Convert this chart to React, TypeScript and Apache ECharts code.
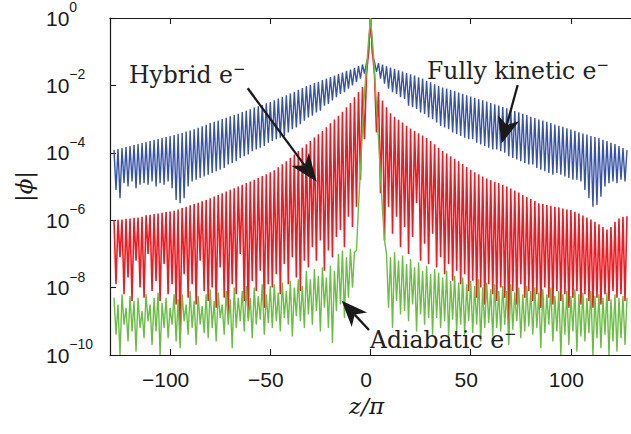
import React, { useEffect, useRef } from "react";
import * as echarts from "echarts";

// Sampling grid of the three profiles: z/π from -128 to 128, step 1
const Z_START = -128;
const Z_STEP = 1;

// log10 |phi|, z/π = -128 … 128 (16 values per row)
const fullyKineticLog = [
  -3.92, -5.1, -3.89, -5.35, -3.86, -4.9, -3.83, -5.0, -3.8, -4.85, -3.77, -5.05, -3.74, -4.95, -3.71, -4.9,
  -3.68, -4.95, -3.65, -4.85, -3.62, -5.0, -3.59, -4.9, -3.56, -4.95, -3.53, -4.85, -3.5, -5.05, -3.47, -5.4,
  -3.44, -5.5, -3.41, -5.35, -3.37, -5.0, -3.34, -4.85, -3.3, -4.8, -3.26, -4.75, -3.21, -4.7, -3.17, -4.65,
  -3.12, -4.6, -3.08, -4.55, -3.04, -4.5, -3.0, -4.45, -2.96, -4.35, -2.92, -4.3, -2.88, -4.25, -2.84, -4.15,
  -2.79, -4.1, -2.75, -4.05, -2.71, -3.95, -2.66, -3.9, -2.62, -3.85, -2.58, -3.8, -2.53, -3.7, -2.49, -3.65,
  -2.44, -3.6, -2.39, -3.55, -2.34, -3.5, -2.29, -3.4, -2.24, -3.3, -2.19, -3.25, -2.13, -3.15, -2.08, -3.05,
  -2.02, -2.95, -1.98, -2.9, -1.93, -2.8, -1.89, -2.75, -1.84, -2.6, -1.8, -2.55, -1.75, -2.45, -1.71, -2.35,
  -1.66, -2.25, -1.62, -2.2, -1.57, -2.1, -1.53, -2.0, -1.48, -1.9, -1.43, -1.8, -1.38, -1.65, -1.33, -1.1,
  0,
  -1.1, -1.3, -1.6, -1.34, -1.8, -1.38, -1.95, -1.43, -2.1, -1.47, -2.2, -1.51, -2.25, -1.55, -2.35, -1.59,
  -2.4, -1.63, -2.6, -1.67, -2.65, -1.71, -2.7, -1.76, -2.8, -1.8, -2.85, -1.86, -2.95, -1.91, -3.0, -1.97,
  -3.1, -2.02, -3.2, -2.06, -3.25, -2.09, -3.3, -2.13, -3.4, -2.17, -3.45, -2.21, -3.5, -2.25, -3.55, -2.29,
  -3.6, -2.33, -3.6, -2.37, -3.7, -2.41, -3.75, -2.44, -3.8, -2.48, -3.85, -2.52, -3.9, -2.56, -3.9, -2.6,
  -3.95, -2.64, -4.0, -2.68, -4.1, -2.72, -4.15, -2.76, -4.2, -2.8, -4.25, -2.84, -4.3, -2.88, -4.35, -2.93,
  -4.35, -2.97, -4.45, -3.01, -4.5, -3.04, -4.55, -3.08, -4.6, -3.12, -4.65, -3.16, -4.6, -3.2, -4.65, -3.23,
  -4.7, -3.27, -4.75, -3.31, -4.8, -3.35, -4.8, -3.39, -4.85, -3.43, -5.1, -3.46, -5.35, -3.5, -5.6, -3.53,
  -5.55, -3.56, -5.3, -3.61, -5.0, -3.65, -4.9, -3.7, -4.85, -3.74, -4.9, -3.8, -4.8, -3.86, -4.85, -3.92,
];

const hybridLog = [
  -6.0, -7.9, -5.99, -7.1, -5.98, -8.2, -5.96, -7.7, -5.95, -8.4, -5.93, -7.2, -5.92, -8.0, -5.9, -8.3,
  -5.85, -7.0, -5.84, -8.1, -5.82, -7.8, -5.8, -8.4, -5.78, -7.3, -5.76, -8.2, -5.74, -7.9, -5.72, -8.5,
  -5.68, -9.3, -5.64, -7.6, -5.6, -8.3, -5.56, -7.9, -5.52, -8.5, -5.48, -7.2, -5.44, -8.1, -5.4, -8.4,
  -5.35, -8.0, -5.3, -8.6, -5.25, -7.4, -5.2, -8.3, -5.15, -8.8, -5.1, -7.9, -5.05, -8.2, -5.0, -7.0,
  -4.95, -8.4, -4.9, -8.9, -4.85, -7.8, -4.8, -8.1, -4.75, -7.5, -4.69, -8.6, -4.64, -7.9, -4.58, -8.0,
  -4.52, -7.6, -4.43, -8.2, -4.34, -7.3, -4.25, -7.9, -4.15, -7.1, -4.05, -7.7, -3.95, -8.1, -3.85, -7.2,
  -3.75, -7.4, -3.65, -6.8, -3.55, -7.2, -3.45, -6.6, -3.35, -7.5, -3.24, -6.9, -3.12, -7.1, -3.01, -6.5,
  -2.9, -6.3, -2.78, -6.8, -2.65, -5.9, -2.52, -6.2, -2.35, -5.6, -2.2, -4.8, -2.05, -3.6, -1.7, -1.0,
  0,
  -1.0, -1.7, -3.4, -2.2, -5.2, -2.45, -6.6, -2.65, -5.6, -2.83, -6.4, -2.93, -5.9, -3.02, -6.8, -3.1,
  -6.2, -3.2, -7.0, -3.28, -6.5, -3.35, -5.5, -3.42, -7.2, -3.49, -6.7, -3.56, -7.3, -3.65, -6.4, -3.75,
  -7.4, -3.85, -7.1, -3.95, -7.6, -4.02, -7.3, -4.1, -7.8, -4.18, -7.5, -4.25, -7.9, -4.33, -7.6, -4.42,
  -8.1, -4.5, -7.8, -4.58, -8.3, -4.64, -8.0, -4.7, -8.5, -4.76, -7.9, -4.81, -8.2, -4.86, -8.4, -4.9,
  -8.0, -4.95, -8.3, -5.0, -9.2, -5.06, -8.1, -5.12, -8.5, -5.18, -7.9, -5.25, -8.3, -5.31, -8.1, -5.37,
  -8.4, -5.43, -8.2, -5.5, -8.6, -5.52, -8.0, -5.55, -8.3, -5.57, -8.5, -5.6, -8.1, -5.62, -8.4, -5.65,
  -8.2, -5.68, -8.6, -5.7, -8.3, -5.75, -8.1, -5.8, -8.5, -5.86, -8.2, -5.92, -8.4, -5.98, -8.6, -6.05,
  -8.3, -6.12, -8.5, -6.2, -8.2, -6.28, -8.4, -6.2, -8.1, -6.05, -8.3, -5.95, -8.2, -5.9, -8.4, -5.88,
];

const adiabaticLog = [
  -8.3, -9.4, -8.5, -10.0, -8.2, -9.1, -8.6, -9.6, -8.25, -9.3, -8.4, -9.9, -8.3, -9.2, -8.7, -9.5,
  -8.2, -9.0, -8.5, -9.7, -8.3, -9.3, -8.15, -10.0, -8.45, -9.2, -8.3, -9.5, -8.6, -9.1, -8.2, -9.6,
  -8.35, -9.8, -8.2, -9.0, -8.5, -9.4, -8.1, -9.2, -8.4, -9.7, -8.25, -9.1, -8.55, -9.35, -8.2, -9.5,
  -8.05, -9.2, -8.4, -9.6, -8.15, -8.9, -8.5, -9.4, -8.1, -9.1, -8.35, -9.8, -8.0, -9.2, -8.3, -9.0,
  -8.1, -9.3, -7.95, -9.0, -8.3, -9.5, -8.0, -9.1, -8.25, -8.95, -7.9, -9.4, -8.2, -9.05, -7.95, -9.2,
  -7.9, -9.0, -8.15, -9.3, -7.85, -8.9, -8.1, -9.1, -7.8, -9.45, -8.0, -8.85, -7.75, -9.0, -7.95, -9.2,
  -7.5, -8.8, -7.75, -9.1, -7.45, -8.7, -7.65, -9.3, -7.4, -8.6, -7.7, -9.2, -7.35, -9.65, -7.5, -8.7,
  -7.0, -8.5, -6.9, -8.9, -7.1, -8.3, -6.85, -8.0, -6.95, -6.9, -5.6, -4.5, -3.3, -2.2, -1.5, -0.7,
  0,
  -0.7, -1.6, -2.6, -3.6, -4.7, -5.7, -6.6, -7.0, -8.6, -7.1, -9.2, -6.95, -8.4, -7.2, -8.8, -7.05,
  -8.7, -7.3, -9.0, -7.15, -8.5, -7.4, -9.3, -7.25, -8.8, -7.5, -9.1, -7.35, -8.9, -7.6, -9.4, -7.45,
  -8.9, -7.55, -9.2, -7.7, -9.0, -7.5, -9.5, -7.8, -8.95, -7.65, -9.3, -7.85, -9.1, -7.7, -9.4, -7.9,
  -9.0, -7.8, -9.35, -7.95, -9.1, -7.75, -9.6, -8.0, -9.2, -7.85, -9.05, -8.05, -9.45, -7.9, -9.2, -8.1,
  -9.3, -7.95, -9.1, -8.1, -9.7, -7.9, -9.25, -8.15, -9.0, -8.0, -9.5, -8.2, -9.3, -7.95, -9.15, -8.1,
  -9.4, -8.0, -9.2, -8.15, -9.8, -8.05, -9.35, -8.2, -9.1, -8.0, -9.6, -8.25, -9.3, -8.1, -10.0, -8.2,
  -9.4, -8.1, -9.7, -8.25, -9.3, -8.05, -9.9, -8.2, -9.45, -8.15, -9.6, -8.3, -9.35, -8.1, -10.0, -8.25,
  -9.5, -8.2, -9.8, -8.3, -9.4, -8.15, -10.0, -8.35, -9.6, -8.2, -9.9, -8.3, -9.5, -8.25, -9.7, -8.3,
];

const seriesNames = ["Fully kinetic e⁻", "Hybrid e⁻", "Adiabatic e⁻"];
const seriesColors = ["#3953a4", "#ed1c24", "#6cbd45"];

const X_MIN = -130;
const X_MAX = 130;
const Y_MIN_EXP = -10;
const Y_MAX_EXP = 0;
const Y_STEP_EXP = 2;

const INK = "#1a1a1a";

function arrow(tail: number[], tip: number[], headLen: number, halfW: number, notch: number) {
  const dx = tip[0] - tail[0];
  const dy = tip[1] - tail[1];
  const L = Math.hypot(dx, dy);
  const ux = dx / L, uy = dy / L;
  const nx = -uy, ny = ux;
  const bx = tip[0] - ux * headLen, by = tip[1] - uy * headLen;
  const mx = tip[0] - ux * (headLen - notch), my = tip[1] - uy * (headLen - notch);
  return [
    {
      type: "line",
      z: 100,
      silent: true,
      shape: { x1: tail[0], y1: tail[1], x2: mx, y2: my },
      style: { stroke: INK, lineWidth: 2.3 },
    },
    {
      type: "polygon",
      z: 100,
      silent: true,
      shape: {
        points: [
          [tip[0], tip[1]],
          [bx + nx * halfW, by + ny * halfW],
          [mx, my],
          [bx - nx * halfW, by - ny * halfW],
        ],
      },
      style: { fill: INK },
    },
  ];
}

function label(text: string, x: number, y: number) {
  return {
    type: "text",
    z: 100,
    silent: true,
    x,
    y,
    style: {
      text: `{m|${text}}{s|−}`,
      align: "left",
      verticalAlign: "middle",
      rich: {
        m: { fontFamily: "DejaVu Serif", fontSize: 23.5, lineHeight: 28, fill: "#222", verticalAlign: "middle" },
        s: { fontFamily: "DejaVu Serif", fontSize: 15, lineHeight: 15, fill: "#222", verticalAlign: "top" },
      },
    },
  };
}

export default function App() {
  const ref = useRef<HTMLDivElement>(null);

  useEffect(() => {
    if (!ref.current) return;
    const chart = echarts.init(ref.current, undefined, { renderer: "svg" });
    const zGrid = fullyKineticLog.map((_, i) => Z_START + i * Z_STEP);
    const logs = [fullyKineticLog, hybridLog, adiabaticLog];
    const widths = [1.4, 1.6, 1.4];

    const axisLine = { onZero: false, lineStyle: { color: INK, width: 1.2 } };
    const axisTick = { inside: true, length: 6, lineStyle: { color: INK, width: 1.1 } };

    const option: any = {
      animation: false,
      grid: { left: 110, top: 18, width: 525.4, height: 337, containLabel: false },
      xAxis: [
        {
          type: "value",
          min: X_MIN,
          max: X_MAX,
          position: "bottom",
          axisLine,
          axisTick,
          splitLine: { show: false },
          axisLabel: {
            showMinLabel: false,
            showMaxLabel: false,
            margin: 14,
            padding: [0, 9, 0, 0],
            color: INK,
            fontFamily: "Liberation Sans",
            fontSize: 21,
            formatter: (v: number) => (v < 0 ? "−" + Math.abs(v) : String(v)),
          },
          name: "z/π",
          nameLocation: "middle",
          nameGap: 26,
          nameTextStyle: {
            fontFamily: "DejaVu Serif",
            fontStyle: "italic",
            fontSize: 23,
            color: INK,
            padding: [0, 8, 0, 0],
          },
        },
        {
          type: "value",
          min: X_MIN,
          max: X_MAX,
          position: "top",
          axisLine,
          axisTick,
          splitLine: { show: false },
          axisLabel: { show: false },
        },
      ],
      yAxis: {
        type: "value",
        min: Y_MIN_EXP,
        max: Y_MAX_EXP,
        interval: Y_STEP_EXP,
        position: "left",
        axisLine,
        axisTick,
        splitLine: { show: false },
        axisLabel: {
          margin: 64,
          align: "left",
          formatter: (v: number) => `{b|10}{s|${v === 0 ? "0" : "−" + Math.abs(v)}}`,
          rich: {
            b: { fontFamily: "Liberation Sans", fontSize: 21, lineHeight: 36, color: INK, verticalAlign: "middle" },
            s: { fontFamily: "Liberation Sans", fontSize: 14, lineHeight: 14, color: INK, verticalAlign: "top" },
          },
        },
        name: "|ϕ|",
        nameLocation: "middle",
        nameGap: 72,
        nameRotate: 90,
        nameTextStyle: {
          fontFamily: "DejaVu Serif",
          fontStyle: "italic",
          fontSize: 23,
          color: INK,
        },
      },
      series: logs.map((arr, k) => ({
        name: seriesNames[k],
        type: "line",
        xAxisIndex: 0,
        yAxisIndex: 0,
        showSymbol: false,
        symbol: "none",
        silent: true,
        clip: true,
        color: seriesColors[k],
        lineStyle: { color: seriesColors[k], width: widths[k] },
        data: zGrid.map((z, i) => [z, arr[i]]),
      })),
      graphic: [
        label("Hybrid e", 129, 75),
        label("Fully kinetic e", 427, 71),
        label("Adiabatic e", 370, 340),
        ...arrow([247.7, 88.3], [316.7, 181.7], 28, 11, 8),
        ...arrow([517.7, 85], [501.7, 143.3], 26, 11, 7),
        ...arrow([369, 330], [341.7, 300.7], 26, 10.5, 7),
      ],
    };

    chart.setOption(option);
    return () => chart.dispose();
  }, []);

  return (
    <div
      ref={ref}
      style={{ position: "absolute", left: 0, top: 0, width: 631, height: 434, background: "#fff" }}
    />
  );
}
